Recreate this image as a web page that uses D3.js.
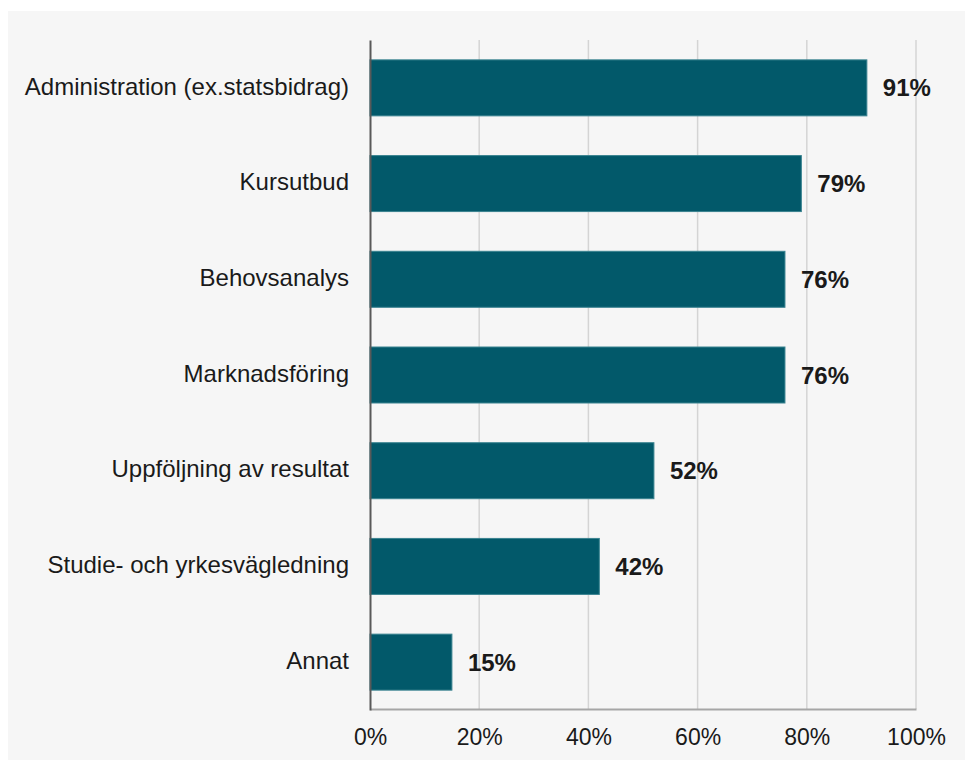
<!DOCTYPE html>
<html>
<head>
<meta charset="utf-8">
<script src="https://cdn.jsdelivr.net/npm/d3@7"></script>
<style>
  body { margin: 0; background: #ffffff; }
  svg text { font-family: "Liberation Sans", Arial, sans-serif; fill: #1a1a1a; }
</style>
</head>
<body>
<svg width="965" height="760"></svg>
<script>
'use strict';
var categories = [
  "Administration (ex.statsbidrag)",
  "Kursutbud",
  "Behovsanalys",
  "Marknadsföring",
  "Uppföljning av resultat",
  "Studie- och yrkesvägledning",
  "Annat"
];
var values = [91, 79, 76, 76, 52, 42, 15];
var tickValues = [0, 20, 40, 60, 80, 100];

var svg = d3.select("svg");
var margin = { top: 40, left: 370 },
  width = 546,
  height = 670;

// panel background
svg.append("rect")
  .attr("x", 8).attr("y", 11)
  .attr("width", 957).attr("height", 749)
  .attr("fill", "#f6f6f6");

var x = d3.scaleLinear().domain([0, 100]).range([0, width]);
var y = d3.scaleBand().domain(categories).range([0, height])
  .paddingInner(0.415).paddingOuter(0.2075);

var g = svg.append("g")
  .attr("transform", "translate(" + margin.left + "," + margin.top + ")");

// vertical gridlines
g.selectAll(".grid")
  .data(tickValues.slice(1))
  .enter().append("line")
  .attr("class", "grid")
  .attr("x1", function(d) { return x(d); })
  .attr("x2", function(d) { return x(d); })
  .attr("y1", 0)
  .attr("y2", height - 1)
  .attr("stroke", "#d4d4d4")
  .attr("stroke-width", 1.5);

// bottom axis
var xAxis = g.append("g")
  .attr("transform", "translate(0," + (height - 1) + ")")
  .call(d3.axisBottom(x).tickValues(tickValues).tickSize(0).tickPadding(20)
    .tickFormat(function(d) { return d + "%"; }));
xAxis.select(".domain").attr("stroke", "#a6a6a6").attr("stroke-width", 2);
xAxis.selectAll("text").style("font-size", "23px").attr("fill", "#1a1a1a");

// bars
g.selectAll(".bar")
  .data(values)
  .enter().append("rect")
  .attr("class", "bar")
  .attr("x", 0)
  .attr("y", function(d, i) { return y(categories[i]); })
  .attr("width", function(d) { return x(d); })
  .attr("height", y.bandwidth())
  .attr("fill", "#02596a")
  .attr("stroke", "#3a8390")
  .attr("stroke-width", 1);

// value labels
g.selectAll(".val")
  .data(values)
  .enter().append("text")
  .attr("class", "val")
  .attr("x", function(d) { return x(d) + 16; })
  .attr("y", function(d, i) { return y(categories[i]) + y.bandwidth() / 2; })
  .attr("dy", "0.36em")
  .style("font-size", "24px")
  .style("font-weight", "bold")
  .text(function(d) { return d + "%"; });

// left axis
var yAxis = g.append("g")
  .call(d3.axisLeft(y).tickSize(0).tickPadding(21));
yAxis.select(".domain").attr("stroke", "#595959").attr("stroke-width", 2);
yAxis.selectAll("text").style("font-size", "24px").attr("fill", "#1a1a1a")
  .attr("dy", "0.28em");
</script>
</body>
</html>
